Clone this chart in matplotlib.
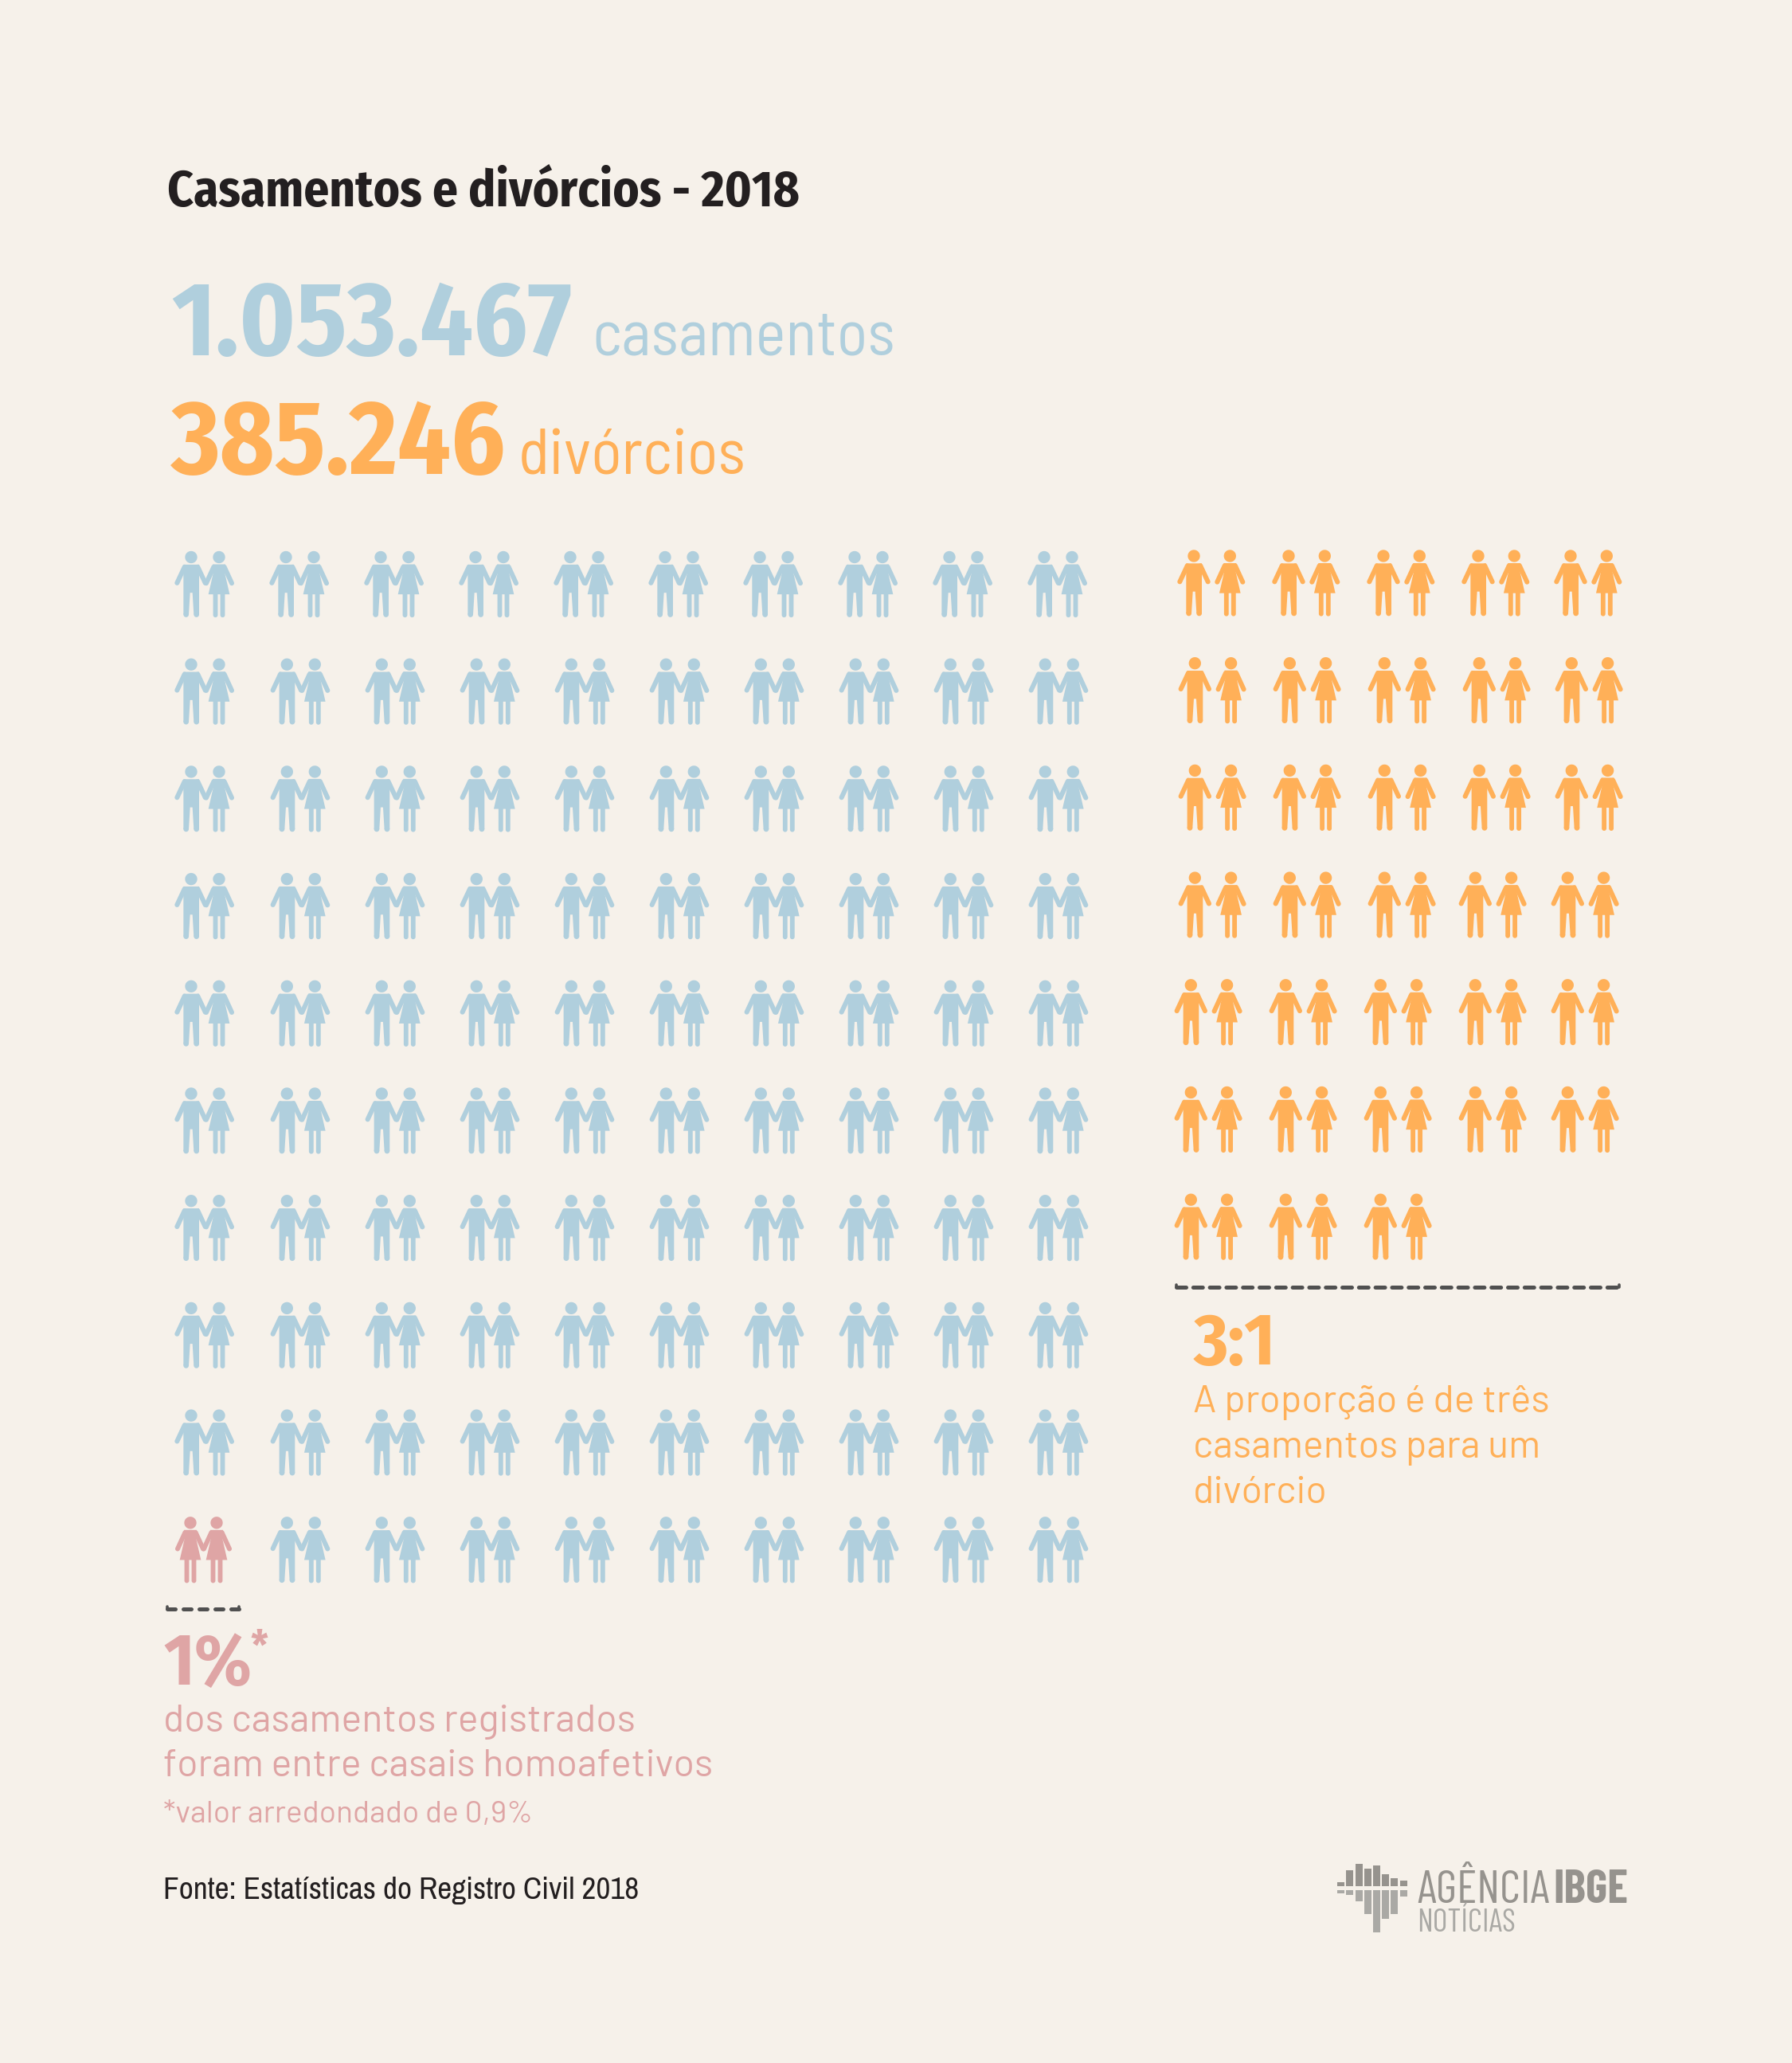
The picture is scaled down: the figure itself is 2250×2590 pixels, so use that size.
import numpy as np
import matplotlib
matplotlib.use('Agg')
import matplotlib.pyplot as plt
from matplotlib.path import Path
from matplotlib.collections import PathCollection

# dados do grafico
casais_por_linha = [10, 10, 10, 10, 10, 10, 10, 10, 10, 10]
divorcios_por_linha = [5, 5, 5, 5, 5, 5, 3]
homoafetivos_por_linha = [0, 0, 0, 0, 0, 0, 0, 0, 0, 1]

logo_cima = [5, 20, 28, 22, 26, 15, 10, 7]
logo_baixo = [4, 6, 14, 30, 53, 36, 30, 8]

titulo = 'Casamentos e divórcios - 2018'
total_casamentos = '1.053.467'
total_divorcios = '385.246'
texto_razao = ['A proporção é de três', 'casamentos para um', 'divórcio']
texto_homo = ['dos casamentos registrados', 'foram entre casais homoafetivos']
nota = '*valor arredondado de 0,9%'
fonte = 'Fonte: Estatísticas do Registro Civil 2018'

BG = '#f6f1ea'
AZUL = '#b0cfdd'
LARANJA = '#ffb058'
ROSA = '#dfa5a5'
ESCURO = '#231f20'
TRACO = '#505050'
LOGO1 = '#96938e'
LOGO2 = '#aaa9a5'
NARROW = 'Archivo Narrow'
NEGRITO = 'Fira Sans Condensed'
CORPO = 'Barlow'
CORPO_GRANDE = 'Barlow Semi Condensed'
LOGO = 'Barlow Condensed'


def stadium(p0, p1, w):
    p0, p1 = np.array(p0, float), np.array(p1, float)
    a = np.arctan2(*(p1 - p0)[::-1])
    t1 = np.linspace(a + np.pi / 2, a + 3 * np.pi / 2, 14)
    t2 = np.linspace(a - np.pi / 2, a + np.pi / 2, 14)
    pts = [p0 + w / 2 * np.array([np.cos(t), np.sin(t)]) for t in t1]
    pts += [p1 + w / 2 * np.array([np.cos(t), np.sin(t)]) for t in t2]
    pts.append(pts[0])
    return np.array(pts)


def disco(c, r):
    t = np.linspace(0, 2 * np.pi, 40)
    return np.column_stack([c[0] + r * np.cos(t), c[1] + r * np.sin(t)])


# formas em unidades de 1/3 de pixel, relativas ao centro da cabeca
HOMEM = [
    disco((0, 0), 23),
    np.array([(-29, 28), (30, 28), (30, 216), (10, 216), (5, 134), (-4, 134), (-9, 216), (-29, 216), (-29, 28)], float),
    disco((-19, 216), 10),
    disco((20, 216), 10),
    stadium((-25, 37), (-53, 97), 18),
    stadium((25, 37), (53, 97), 18),
]
MULHER = [
    disco((0, 0), 23),
    np.array([(-24, 27), (24, 27), (21, 57), (40, 140), (-40, 140), (-21, 57), (-24, 27)], float),
    stadium((-13.5, 135), (-13.5, 218), 17.5),
    stadium((13.5, 135), (13.5, 218), 17.5),
    stadium((-20, 37), (-48, 98), 18),
    stadium((20, 37), (48, 98), 18),
]


def coloca(forma, x, y):
    return [Path(p / 3 + [x, y]) for p in forma]


def desenha(ax, paths, cor):
    ax.add_collection(PathCollection(paths, facecolors=cor, edgecolors='none', linewidths=0))


def tracejado(ax, x0, x1, y, on=2.4, off=1.76):
    ax.plot([x0 + 2, x1 - 2], [y, y], color=TRACO, lw=3.6, dash_capstyle='round',
            linestyle=(0, (on, off)))
    for x in (x0 + 2, x1 - 2):
        ax.plot([x, x], [y - 3, y], color=TRACO, lw=2.6, solid_capstyle='round')


def main():
    fig = plt.figure(figsize=(22.5, 25.9), dpi=100, facecolor=BG)
    ax = fig.add_axes([0, 0, 1, 1])
    ax.set_xlim(0, 2250)
    ax.set_ylim(2590, 0)
    ax.axis('off')

    # casamentos
    azul, rosa = [], []
    for i, n in enumerate(casais_por_linha):
        y = 699.5 + 134.7 * i
        for j in range(n):
            x = 240 + 119 * j + (1.3 if i > 0 and j > 0 else 0)
            if j < homoafetivos_por_linha[i]:
                rosa += coloca(MULHER, x - 1, y) + coloca(MULHER, x + 32, y)
            else:
                azul += coloca(HOMEM, x, y) + coloca(MULHER, x + 35, y)
    desenha(ax, azul, AZUL)
    desenha(ax, rosa, ROSA)

    # divorcios
    laranja = []
    for i, n in enumerate(divorcios_por_linha):
        y = 698 + 134.7 * i
        for j in range(n):
            x = 1499 + 119 * min(j, 3) + (116 if j == 4 else 0) + (1.3 if i > 0 else 0)
            if i >= 4 or (i == 3 and j >= 3):
                x -= 5
            laranja += coloca(HOMEM, x, y) + coloca(MULHER, x + 45.3, y)
    desenha(ax, laranja, LARANJA)

    # textos
    ax.text(210, 259, titulo, color=ESCURO, family=NEGRITO, weight='bold', fontsize=45.4)
    ax.text(215, 446, total_casamentos, color=AZUL, family=NEGRITO, weight='bold', fontsize=94)
    ax.text(743, 446, 'casamentos', color=AZUL, family=CORPO_GRANDE, fontsize=58)
    ax.text(215, 595, total_divorcios, color=LARANJA, family=NEGRITO, weight='bold', fontsize=94)
    ax.text(651, 595, 'divórcios', color=LARANJA, family=CORPO_GRANDE, fontsize=58)

    tracejado(ax, 1475, 2035, 1616)
    ax.text(1499, 1713, '3:1', color=LARANJA, family=NEGRITO, weight='bold', fontsize=66)
    for k, linha in enumerate(texto_razao):
        ax.text(1498, 1773 + 57 * k, linha, color=LARANJA, family=CORPO, fontsize=34.8)

    tracejado(ax, 208, 302, 2020, on=2.0, off=2.0)
    ax.text(205, 2115, '1%', color=ROSA, family=NEGRITO, weight='bold', fontsize=66)
    ax.text(314, 2084, '*', color=ROSA, family=NEGRITO, weight='bold', fontsize=38)
    for k, linha in enumerate(texto_homo):
        ax.text(205, 2174 + 56 * k, linha, color=ROSA, family=CORPO, fontsize=34.8)
    ax.text(205, 2288, nota, color=ROSA, family=CORPO, fontsize=28)

    ax.text(205, 2384, fonte, color=ESCURO, family=NARROW, fontsize=28.3)

    # logo
    xs = 1683.7 + 11.2 * np.arange(8)
    ax.bar(xs, logo_cima, width=9, bottom=2368 - np.array(logo_cima), color=LOGO1, linewidth=0)
    ax.bar(xs, logo_baixo, width=9, bottom=2373, color=LOGO2, linewidth=0)
    ax.text(1779, 2389, 'AGÊNCIA', color=LOGO1, family=LOGO, fontsize=42)
    ax.text(1950, 2389, 'IBGE', color=LOGO1, family=LOGO, weight='bold', fontsize=42)
    ax.text(1779, 2425, 'NOTÍCIAS', color=LOGO2, family=LOGO, fontsize=29)

    ax.set_xlim(0, 2250)
    ax.set_ylim(2590, 0)
    fig.savefig('out.png', dpi=100, facecolor=BG)


if __name__ == "__main__":
    main()
